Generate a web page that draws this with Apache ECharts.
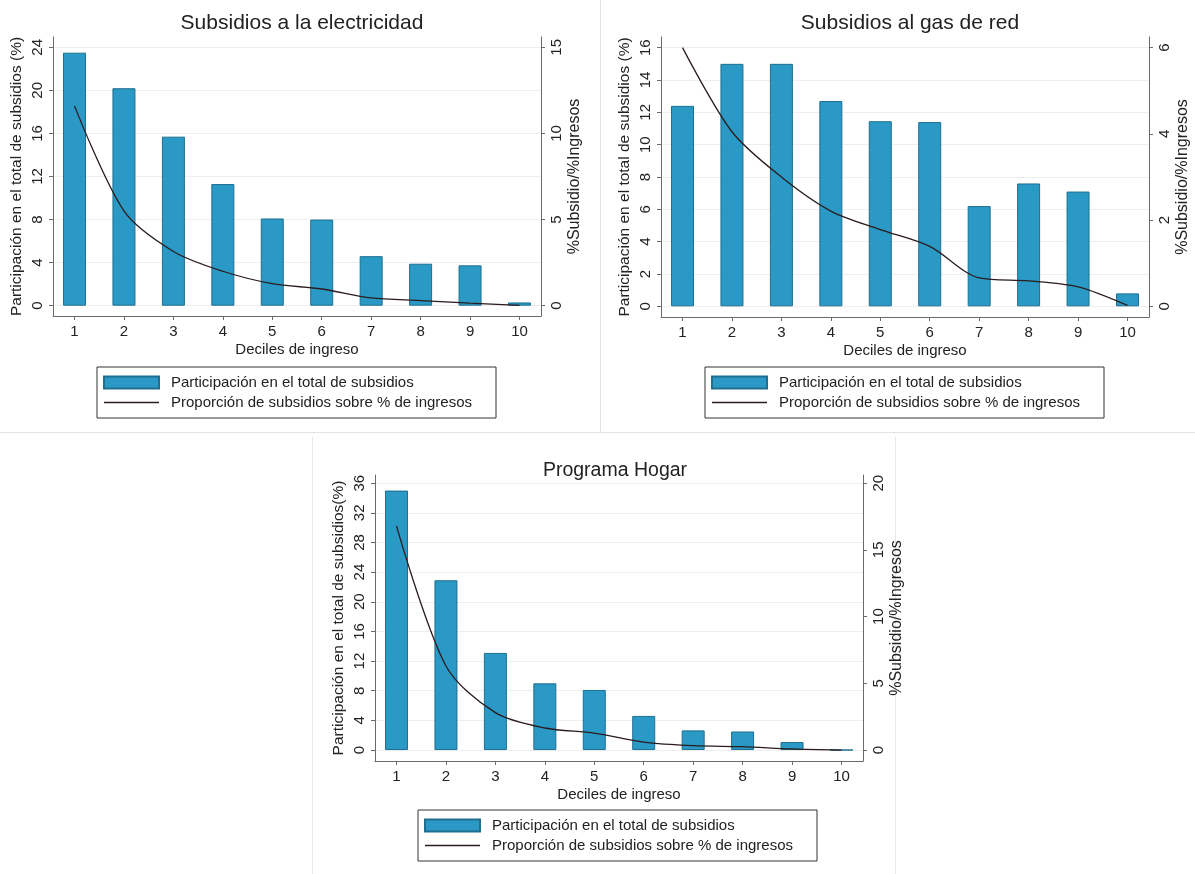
<!DOCTYPE html>
<html>
<head>
<meta charset="utf-8">
<script src="https://cdn.jsdelivr.net/npm/echarts@6/dist/echarts.min.js"></script>
<style>
html,body{margin:0;padding:0;background:#fff;}
#c{width:1195px;height:874px;}
</style>
</head>
<body>
<div id="c"></div>
<script>
// ---- data ----
const deciles = [1, 2, 3, 4, 5, 6, 7, 8, 9, 10];
const elecShare = [23.5, 20.2, 15.7, 11.3, 8.1, 8.0, 4.6, 3.9, 3.75, 0.3];
const elecRatio = [11.6, 5.5, 3.15, 2.0, 1.28, 0.97, 0.45, 0.3, 0.15, 0.02];
const gasShare = [12.4, 15.0, 15.0, 12.7, 11.45, 11.4, 6.2, 7.6, 7.1, 0.8];
const gasRatio = [6.0, 4.05, 3.0, 2.21, 1.78, 1.39, 0.66, 0.59, 0.45, 0.02];
const hogarShare = [35.0, 22.9, 13.1, 9.0, 8.1, 4.6, 2.65, 2.5, 1.08, 0];
const hogarRatio = [16.8, 6.3, 2.8, 1.65, 1.27, 0.6, 0.33, 0.25, 0.08, 0];

const elecLeftTicks = [0, 4, 8, 12, 16, 20, 24];
const elecRightTicks = [0, 5, 10, 15];
const gasLeftTicks = [0, 2, 4, 6, 8, 10, 12, 14, 16];
const gasRightTicks = [0, 2, 4, 6];
const hogarLeftTicks = [0, 4, 8, 12, 16, 20, 24, 28, 32, 36];
const hogarRightTicks = [0, 5, 10, 15, 20];

const titles = ['Subsidios a la electricidad', 'Subsidios al gas de red', 'Programa Hogar'];
const xTitle = 'Deciles de ingreso';
const yLeftTitles = ['Participación en el total de subsidios (%)', 'Participación en el total de subsidios (%)', 'Participación en el total de subsidios(%)'];
const yRightTitle = '%Subsidio/%Ingresos';
const barName = 'Participación en el total de subsidios';
const lineName = 'Proporción de subsidios sobre % de ingresos';

// ---- styles ----
const FONT = "'Liberation Sans', Arial, sans-serif";
const TXT = '#222';
const AX = '#6a6a6a';
const BAR = '#2a99c6';
const BAR_BORDER = '#1e6f90';
const LINE = '#2b1c1c';

const panels = [
  {share: elecShare, ratio: elecRatio, lt: elecLeftTicks, rt: elecRightTicks, left: 53, top: 37, h: 279,
   lmin: -0.957, lmax: 24.957, rscale: 15 / 24, titleX: 297, titleY: 8, titleSize: 21, legX: 97, legY: 367},
  {share: gasShare, ratio: gasRatio, lt: gasLeftTicks, rt: gasRightTicks, left: 661, top: 37, h: 280,
   lmin: -0.66, lmax: 16.66, rscale: 6 / 16, titleX: 905, titleY: 8, titleSize: 21, legX: 705, legY: 367},
  {share: hogarShare, ratio: hogarRatio, lt: hogarLeftTicks, rt: hogarRightTicks, left: 375, top: 475, h: 286,
   lmin: -1.48, lmax: 37.1, rscale: 20 / 36, titleX: 610, titleY: 456, titleSize: 19.5, legX: 418, legY: 810}
];
const PW = 488;
const XMIN = 0.565, XMAX = 10.435;

const option = {
  backgroundColor: '#fff',
  animation: false,
  textStyle: {fontFamily: FONT, color: TXT},
  title: [], grid: [], xAxis: [], yAxis: [], series: [], legend: [],
  graphic: [
    {type: 'line', shape: {x1: 600.5, y1: 0, x2: 600.5, y2: 432}, style: {stroke: '#e2e2e2', lineWidth: 1}},
    {type: 'line', shape: {x1: 0, y1: 432.5, x2: 1195, y2: 432.5}, style: {stroke: '#e2e2e2', lineWidth: 1}},
    {type: 'line', shape: {x1: 312.5, y1: 437, x2: 312.5, y2: 874}, style: {stroke: '#e8e8e8', lineWidth: 1}},
    {type: 'line', shape: {x1: 895.5, y1: 437, x2: 895.5, y2: 874}, style: {stroke: '#e8e8e8', lineWidth: 1}}
  ]
};

panels.forEach((p, i) => {
  option.title.push({
    text: titles[i], left: p.titleX, top: p.titleY, textAlign: 'center',
    textStyle: {fontFamily: FONT, fontSize: p.titleSize, fontWeight: 'normal', color: TXT}
  });
  option.grid.push({left: p.left, top: p.top, width: PW, height: p.h, containLabel: false});
  option.xAxis.push({
    type: 'value', gridIndex: i, min: XMIN, max: XMAX, position: 'bottom',
    name: xTitle, nameLocation: 'middle', nameGap: 26,
    nameTextStyle: {fontFamily: FONT, fontSize: 15, color: TXT},
    axisLine: {show: true, onZero: false, lineStyle: {color: AX, width: 1}},
    axisTick: {show: true, length: 4, lineStyle: {color: AX}, customValues: deciles},
    axisLabel: {show: true, fontSize: 15, color: TXT, margin: 8, customValues: deciles, fontFamily: FONT},
    splitLine: {show: false}
  });
  option.yAxis.push({
    type: 'value', gridIndex: i, position: 'left', min: p.lmin, max: p.lmax,
    name: yLeftTitles[i], nameLocation: 'middle', nameGap: 28, nameRotate: 90,
    nameTextStyle: {fontFamily: FONT, fontSize: 15.5, color: TXT},
    axisLine: {show: true, onZero: false, lineStyle: {color: AX, width: 1}},
    axisTick: {show: true, length: 4, lineStyle: {color: AX}, customValues: p.lt},
    axisLabel: {show: true, rotate: 90, fontSize: 15, color: TXT, margin: 8, customValues: p.lt, fontFamily: FONT},
    splitLine: {show: true, lineStyle: {color: '#eeeeee', width: 1}}
  });
  option.yAxis.push({
    type: 'value', gridIndex: i, position: 'right', min: p.lmin * p.rscale, max: p.lmax * p.rscale,
    name: yRightTitle, nameLocation: 'middle', nameGap: 26, nameRotate: 90,
    nameTextStyle: {fontFamily: FONT, fontSize: 16, color: TXT},
    axisLine: {show: true, onZero: false, lineStyle: {color: AX, width: 1}},
    axisTick: {show: true, length: 4, lineStyle: {color: AX}, customValues: p.rt},
    axisLabel: {show: true, rotate: 90, fontSize: 15, color: TXT, margin: 8, customValues: p.rt, fontFamily: FONT},
    splitLine: {show: false}
  });
  option.series.push({
    type: 'bar', name: barName, xAxisIndex: i, yAxisIndex: 2 * i,
    data: deciles.map((d, k) => [d, p.share[k]]),
    barWidth: 23,
    itemStyle: {color: BAR, borderColor: BAR_BORDER, borderWidth: 1}
  });
  option.series.push({
    type: 'line', name: lineName, xAxisIndex: i, yAxisIndex: 2 * i + 1,
    data: deciles.map((d, k) => [d, p.ratio[k]]),
    smooth: 0.3, symbol: 'none', showSymbol: false,
    lineStyle: {color: LINE, width: 1.3}, itemStyle: {color: LINE, opacity: 0}, z: 5
  });
  option.legend.push({
    orient: 'vertical', left: p.legX, top: p.legY, selectedMode: false,
    itemWidth: 55, itemHeight: 12, itemGap: 5,
    borderColor: '#333', borderWidth: 1, padding: [8, 24, 8, 6],
    textStyle: {fontFamily: FONT, fontSize: 15, color: TXT, padding: [0, 0, 0, 7]},
    data: [
      {name: barName, icon: 'rect'},
      {name: lineName, itemStyle: {opacity: 0}, lineStyle: {color: LINE, width: 1.3, opacity: 1}}
    ]
  });
});

const chart = echarts.init(document.getElementById('c'), null, {renderer: 'canvas'});
chart.setOption(option);
</script>
</body>
</html>
